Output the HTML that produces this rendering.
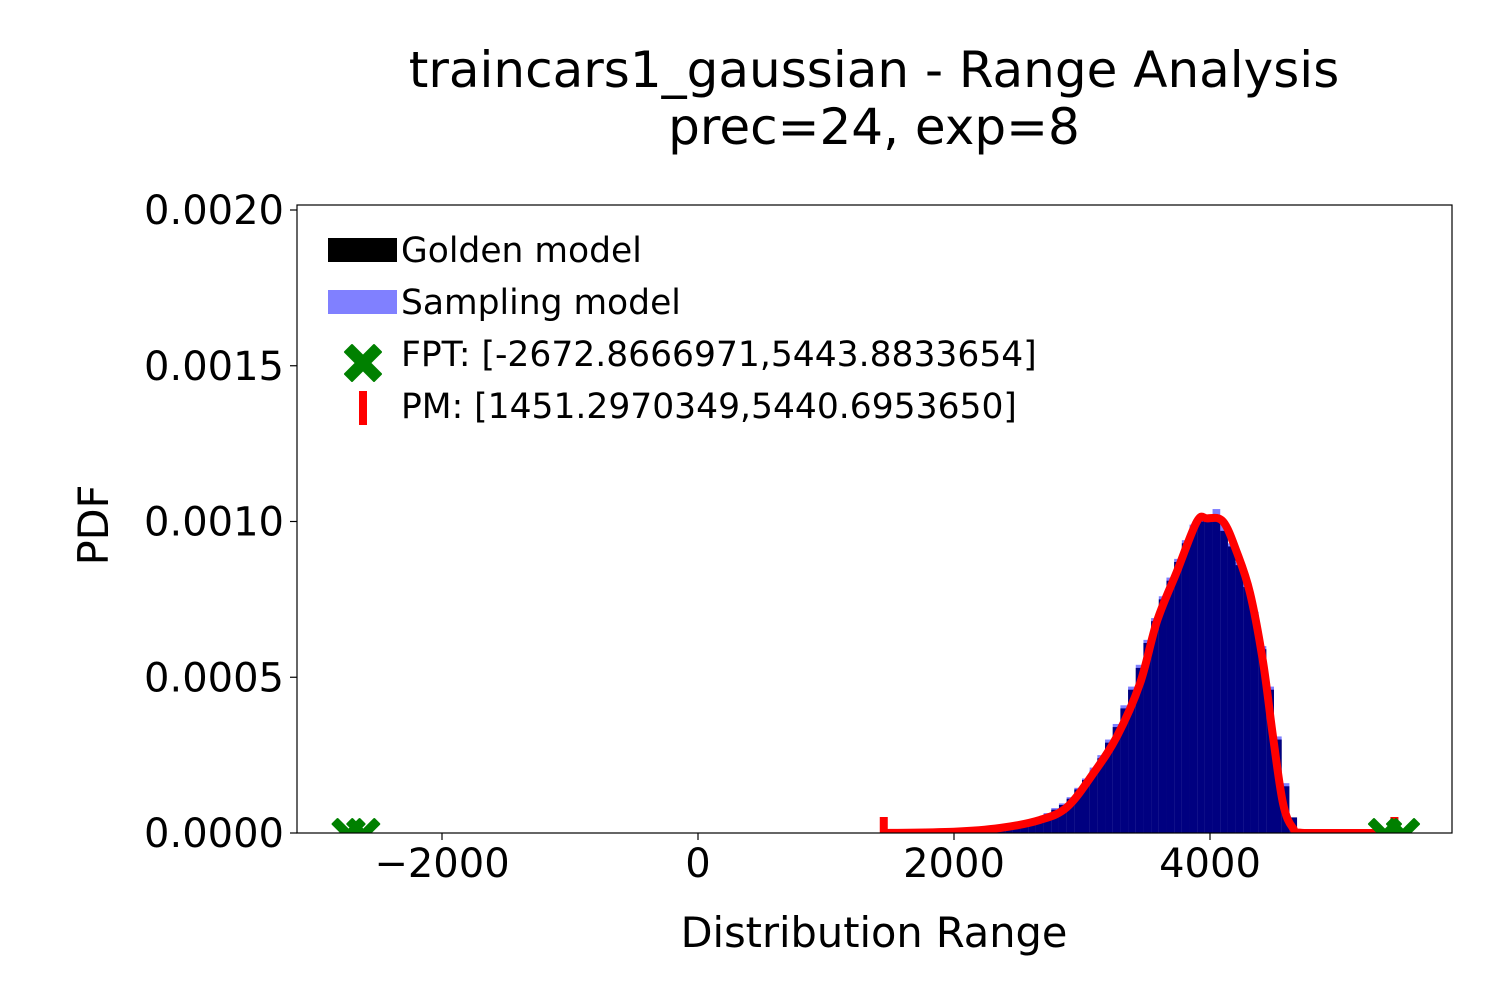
<!DOCTYPE html>
<html><head><meta charset="utf-8"><style>
body{margin:0;background:#fff;}
svg{display:block;font-family:"DejaVu Sans","Liberation Sans",sans-serif;}
</style></head><body>
<svg id="chart" width="1500" height="1000">
<text x="874" y="87" font-size="50" text-anchor="middle">traincars1_gaussian - Range Analysis</text>
<text x="874" y="144" font-size="50" text-anchor="middle">prec=24, exp=8</text>
<defs><clipPath id="clip"><rect x="297" y="205" width="1155" height="628"/></clipPath></defs>
<g id="plot" clip-path="url(#clip)"></g>
<rect x="297" y="205" width="1155" height="628" fill="none" stroke="#000" stroke-width="1.2"/>
<g id="xt"></g>
<g id="yt"></g>
<text x="874" y="947" font-size="41.5" text-anchor="middle">Distribution Range</text>
<text transform="translate(108,525) rotate(-90)" font-size="41.5" text-anchor="middle">PDF</text>
<g>
<rect x="328" y="238" width="69" height="24" fill="#000"/>
<text x="401" y="262" font-size="34.5">Golden model</text>
<rect x="328" y="290" width="69" height="24" fill="#8080ff"/>
<text x="401" y="314" font-size="34.5">Sampling model</text>
<path d="M352,345 L363,356 L374,345 L381,352 L370,363 L381,374 L374,381 L363,370 L352,381 L345,374 L356,363 L345,352 Z" fill="#008000" stroke="#008000" stroke-width="2" stroke-linejoin="round"/>
<text x="401" y="366" font-size="34.5">FPT: [-2672.8666971,5443.8833654]</text>
<rect x="359" y="391" width="8" height="34" fill="#ff0000"/>
<text x="401" y="418" font-size="34.5">PM: [1451.2970349,5440.6953650]</text>
</g>
</svg>
<script>
const xTicks=[-2000,0,2000,4000];
const yTicks=[0,0.0005,0.001,0.0015,0.002];
const yTickLabels=["0.0000","0.0005","0.0010","0.0015","0.0020"];
const binStart=2100, binWidth=60;
const goldenVals=[0.000006,0.000008,0.00001,0.000012,0.000016,0.00002,0.000025,0.00003,0.000038,0.000048,0.00006,0.000075,0.00009,0.00011,0.00014,0.00017,0.0002,0.00024,0.00029,0.00034,0.0004,0.00046,0.00053,0.00061,0.00068,0.00075,0.00081,0.00087,0.00093,0.00098,0.001,0.00101,0.001,0.00097,0.00092,0.00086,0.00079,0.0007,0.00059,0.00046,0.0003,0.00015,0.00005,0.00001];
const samplingVals=[0.000008,0.00001,0.000012,0.000014,0.000018,0.000022,0.000028,0.000034,0.00004,0.00005,0.000064,0.00008,0.000095,0.000115,0.000145,0.000175,0.00021,0.00025,0.0003,0.00035,0.00041,0.00047,0.00054,0.00062,0.00069,0.00076,0.00082,0.00088,0.00094,0.00099,0.00101,0.00102,0.00104,0.00099,0.00093,0.00087,0.0008,0.00071,0.0006,0.00047,0.00031,0.00016,0.00005,0.00001];
const curveX=[1451,2000,2359,2672,2883,3086,3273,3453,3586,3742,3898,3977,4102,4211,4313,4414,4492,4570,4648,4750,5441];
const curveY=[0,0.000004,0.000016,0.000042,0.000083,0.00019,0.00031,0.00048,0.00068,0.00084,0.001,0.00101,0.001,0.0009,0.00077,0.00055,0.00031,0.000096,0.000016,0,0];
const pmRange=[1451.2970349,5440.6953650];
const fptMarkers=[-2730,-2615,5367,5508];
const NS="http://www.w3.org/2000/svg";
const xs=v=>698+v*0.128;
const ys=v=>833-v*311500;
function mk(tag,attrs,parent){const e=document.createElementNS(NS,tag);for(const k in attrs)e.setAttribute(k,attrs[k]);parent.appendChild(e);return e;}
const plot=document.getElementById('plot'),xt=document.getElementById('xt'),yt=document.getElementById('yt');
goldenVals.forEach((v,i)=>{const x0=xs(binStart+i*binWidth),x1=xs(binStart+(i+1)*binWidth);
 const r=mk('rect',{x:x0,y:ys(v),width:x1-x0,height:833-ys(v),fill:'#000'},plot);
 
 });
samplingVals.forEach((v,i)=>{const x0=xs(binStart+i*binWidth),x1=xs(binStart+(i+1)*binWidth);
 const r=mk('rect',{x:x0,y:ys(v),width:x1-x0,height:833-ys(v),fill:'rgba(0,0,255,0.5)'},plot);
 
 });
const P=curveX.map((x,i)=>[xs(x),ys(curveY[i])]);
let d='M'+P[0][0]+','+P[0][1];
for(let i=0;i<P.length-1;i++){const p0=P[Math.max(0,i-1)],p1=P[i],p2=P[i+1],p3=P[Math.min(P.length-1,i+2)];
 d+=` C${p1[0]+(p2[0]-p0[0])/6},${Math.min(833,p1[1]+(p2[1]-p0[1])/6)} ${p2[0]-(p3[0]-p1[0])/6},${Math.min(833,p2[1]-(p3[1]-p1[1])/6)} ${p2[0]},${p2[1]}`;}
const pl=mk('path',{d:d,fill:'none',stroke:'#ff0000','stroke-width':8,'stroke-linejoin':'round'},plot);


pmRange.forEach(v=>{const r=mk('rect',{x:xs(v)-4,y:817,width:8,height:16,fill:'#ff0000'},plot);
 
 });
fptMarkers.forEach(v=>{const c=xs(v),y=833;
 const p=mk('path',{d:`M${c-11},${y-14} L${c},${y-3} L${c+11},${y-14} L${c+16},${y-9} L${c+5},${y+2} L${c+16},${y+13} L${c+11},${y+18} L${c},${y+7} L${c-11},${y+18} L${c-16},${y+13} L${c-5},${y+2} L${c-16},${y-9} Z`,fill:'#008000',stroke:'#008000','stroke-width':2,'stroke-linejoin':'round'},plot);
 
 });
xTicks.forEach(v=>{const x=xs(v);
 mk('line',{x1:x,x2:x,y1:833,y2:840,stroke:'#000','stroke-width':1.2},xt);
 const t=mk('text',{x:x,y:877,'font-size':40,'text-anchor':'middle'},xt);t.textContent=v<0?'\u2212'+(-v):String(v);
 
 });
yTicks.forEach((v,i)=>{const y=ys(v);
 mk('line',{x1:290,x2:297,y1:y,y2:y,stroke:'#000','stroke-width':1.2},yt);
 const t=mk('text',{x:284,y:y+14,'font-size':40,'text-anchor':'end'},yt);t.textContent=yTickLabels[i];
 
 });
</script>
</body></html>
